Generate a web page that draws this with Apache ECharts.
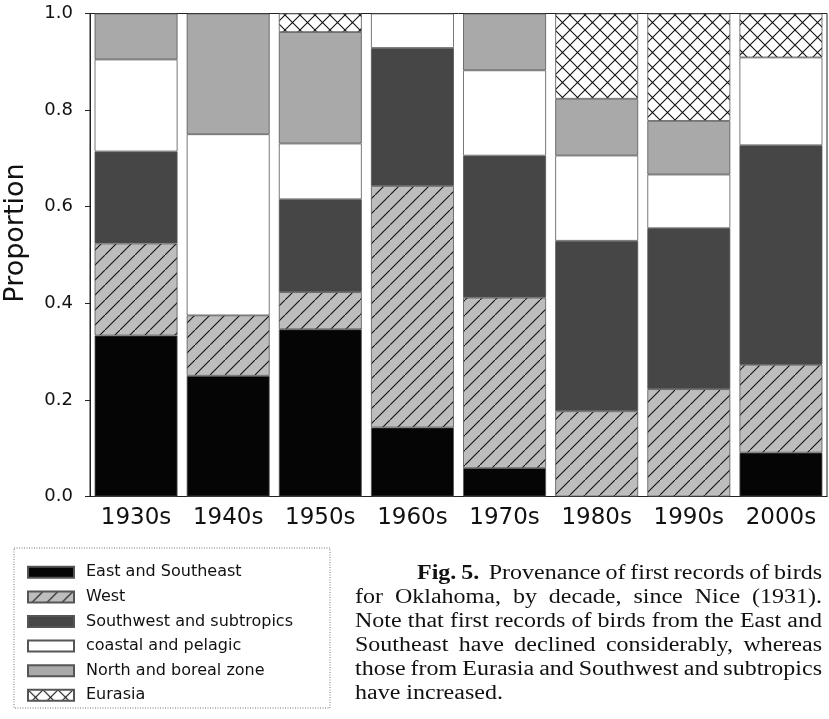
<!DOCTYPE html>
<html><head><meta charset="utf-8">
<script src="https://cdn.jsdelivr.net/npm/echarts@6/dist/echarts.min.js"></script>
<style>html,body{margin:0;padding:0;background:#fff}#c{width:829px;height:719px}</style>
</head><body><div id="c"></div>
<script>
// ---- data ----
const decades = ['1930s','1940s','1950s','1960s','1970s','1980s','1990s','2000s'];
const seriesNames = ['East and Southeast','West','Southwest and subtropics','coastal and pelagic','North and boreal zone','Eurasia'];
const eastSoutheast = [0.3333, 0.25, 0.3462, 0.1429, 0.0588, 0, 0, 0.0909];
const west          = [0.1905, 0.125, 0.0769, 0.5, 0.3529, 0.1765, 0.2222, 0.1818];
const southwest     = [0.1905, 0, 0.1923, 0.2857, 0.2941, 0.3529, 0.3333, 0.4545];
const coastal       = [0.1905, 0.375, 0.1154, 0.0714, 0.1765, 0.1765, 0.1111, 0.1818];
const northBoreal   = [0.0952, 0.25, 0.2308, 0, 0.1176, 0.1176, 0.1111, 0];
const eurasia       = [0, 0, 0.0385, 0, 0, 0.1765, 0.2222, 0.0909];
const yTickValues   = [0, 0.2, 0.4, 0.6, 0.8, 1.0];
const yAxisTitle = 'Proportion';
const captionLines = [
  'Fig. 5.  Provenance of first records of birds',
  'for Oklahoma, by decade, since Nice (1931).',
  'Note that first records of birds from the East and',
  'Southeast have declined considerably, whereas',
  'those from Eurasia and Southwest and subtropics',
  'have increased.'
];

// ---- patterns ----
function makePattern(bg, fwd, back) {
  const s = 15, c = document.createElement('canvas');
  c.width = s; c.height = s;
  const g = c.getContext('2d');
  g.fillStyle = bg; g.fillRect(0, 0, s, s);
  g.strokeStyle = '#111'; g.lineWidth = 1.1;
  g.beginPath();
  if (fwd) { g.moveTo(-2, s + 2); g.lineTo(s + 2, -2); }
  if (back) { g.moveTo(-2, -2); g.lineTo(s + 2, s + 2); }
  g.stroke();
  return { image: c, repeat: 'repeat' };
}
const fills = [
  '#050505',
  makePattern('#bdbdbd', true, false),
  '#464646',
  '#ffffff',
  '#a9a9a9',
  makePattern('#ffffff', true, true)
];
const seriesData = [eastSoutheast, west, southwest, coastal, northBoreal, eurasia];

// ---- caption (justified) ----
function captionGraphics() {
  const ctx = document.createElement('canvas').getContext('2d');
  const normal = '20px "Liberation Serif"', bold = 'bold 20px "Liberation Serif"';
  const sx = 1.2;
  const els = [];
  const right = 822, lineY0 = 574, lineStep = 24;
  captionLines.forEach((line, i) => {
    const words = line.split(/ +/);
    const left = i === 0 ? 417 : 355;
    const fonts = words.map((w, k) => (i === 0 && k < 2) ? bold : normal);
    const widths = words.map((w, k) => { ctx.font = fonts[k]; return ctx.measureText(w).width * sx; });
    const total = widths.reduce((a, b) => a + b, 0);
    const weights = words.slice(0, -1).map((w, k) => (i === 0 && k === 1) ? 2 : 1);
    const wsum = weights.reduce((a, b) => a + b, 0);
    const last = i === captionLines.length - 1;
    const unit = last ? 6 : Math.max(3, (right - left - total) / wsum);
    let x = left;
    words.forEach((w, k) => {
      els.push({ type: 'text', x: x, y: lineY0 + i * lineStep, scaleX: sx, silent: true,
        style: { text: w, font: fonts[k], fill: '#111', align: 'left', verticalAlign: 'middle' } });
      x += widths[k] + (k < weights.length ? weights[k] * unit : 0);
    });
  });
  return els;
}

const chart = echarts.init(document.getElementById('c'), null, { renderer: 'canvas' });
chart.setOption({
  animation: false,
  backgroundColor: '#fff',
  grid: { left: 90, right: 2, top: 13.5, bottom: 222.5, show: true, borderColor: '#222', borderWidth: 1 },
  xAxis: {
    type: 'category', data: decades,
    axisLine: { show: true, lineStyle: { color: '#222', width: 1.2 } },
    axisTick: { show: false },
    axisLabel: { fontFamily: 'DejaVu Sans', fontSize: 23, color: '#111', margin: 10 }
  },
  yAxis: {
    type: 'value', min: 0, max: 1, interval: 0.2,
    splitLine: { show: false },
    axisLine: { show: true, lineStyle: { color: '#222' } },
    axisTick: { show: true, length: 5, lineStyle: { color: '#222' } },
    axisLabel: { fontFamily: 'DejaVu Sans', fontSize: 18, color: '#111', margin: 17,
      formatter: v => (yTickValues.some(t => Math.abs(t - v) < 1e-9) ? v.toFixed(1) : '') }
  },
  legend: {
    orient: 'vertical', left: 27, top: 564.3, padding: 0, itemGap: 8.6,
    itemWidth: 46, itemHeight: 11, icon: 'rect',
    textStyle: { fontFamily: 'DejaVu Sans', fontSize: 16, color: '#111', padding: [0, 0, 0, 7] },
    data: seriesNames
  },
  series: seriesNames.map((name, i) => ({
    name: name, type: 'bar', stack: 'total', barCategoryGap: '10%',
    itemStyle: { color: fills[i], borderColor: '#555', borderWidth: 0.8 },
    data: seriesData[i].map(v => v === 0 ? null : v)
  })),
  graphic: [
    { type: 'text', x: 16, y: 233, rotation: Math.PI / 2, silent: true,
      style: { text: yAxisTitle, font: '27px "DejaVu Sans"', fill: '#111', align: 'center', verticalAlign: 'middle' } },
    { type: 'rect', silent: true, shape: { x: 14, y: 548, width: 316, height: 160 },
      style: { fill: 'none', stroke: '#777', lineWidth: 1, lineDash: [1, 1.5] } }
  ].concat(captionGraphics())
});
</script>
</body></html>
